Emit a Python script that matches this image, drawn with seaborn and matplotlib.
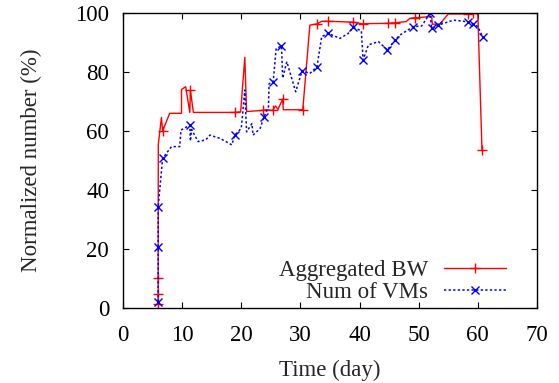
import numpy as np
import pandas as pd
import matplotlib
matplotlib.use("Agg")
import matplotlib.pyplot as plt
import seaborn as sns

# Aggregated BW (normalized %)
bw_day = [5.95, 5.95, 5.95, 5.97, 6.5, 6.7, 7.9, 9.9, 9.9, 10.6, 11.3, 11.4, 11.9,
          18.9, 19.9, 20.6, 20.9, 23.7, 24.2, 25.3, 25.8, 26.2, 27.0, 27.1, 30.4,
          31.6, 32.8, 33.6, 34.7, 38.9, 40.6, 41.2, 44.8, 46.0, 47.9, 48.5, 49.4,
          52.2, 52.3, 53.6, 55.0, 58.3, 59.2, 60.0, 60.7]
bw_val = [1.4, 4.7, 10.1, 55.3, 64.6, 60.0, 66.0, 66.0, 74.1, 75.0, 66.3, 73.8, 66.3,
          66.3, 66.5, 85.0, 66.6, 67.0, 67.2, 67.0, 68.5, 67.3, 70.8, 67.2, 67.2,
          95.9, 96.3, 97.2, 97.2, 96.9, 96.3, 96.4, 96.5, 96.7, 97.1, 98.2, 98.4,
          98.8, 96.2, 96.3, 99.7, 99.7, 100.0, 99.7, 53.6]
bw_marks = [0, 1, 2, 5, 11, 13, 17, 19, 22, 24, 26, 28, 29, 30, 32, 33, 36, 41, 42, 44]

# Num of VMs (normalized %)
vm_day = [5.95, 5.95, 5.95, 6.7, 8.2, 9.6, 9.8, 11.3, 11.4, 11.6, 12.7, 14.0, 14.7,
          16.4, 18.4, 18.9, 20.0, 20.6, 20.9, 21.8, 22.0, 23.2, 23.8, 24.6, 24.7,
          25.4, 25.9, 26.8, 27.0, 27.7, 29.2, 30.3, 31.6, 32.8, 33.6, 34.7, 36.7,
          38.1, 38.9, 40.3, 40.6, 41.5, 43.2, 44.7, 46.0, 46.8, 49.1, 50.5, 51.9,
          52.2, 52.5, 53.3, 55.9, 58.4, 59.2, 60.0, 60.8]
vm_val = [2.1, 20.8, 34.3, 50.7, 54.7, 54.7, 60.3, 62.0, 56.6, 60.5, 56.4, 57.0, 58.6,
          57.5, 55.3, 58.6, 60.9, 73.9, 59.7, 62.5, 58.6, 60.9, 64.6, 68.2, 76.0,
          76.7, 88.0, 88.8, 77.9, 83.5, 73.3, 80.5, 79.5, 81.8, 92.0, 93.1, 91.4,
          93.1, 95.1, 94.0, 84.1, 89.2, 90.3, 87.5, 90.8, 92.5, 95.4, 95.6, 99.9,
          94.8, 95.0, 95.9, 97.6, 97.0, 96.3, 95.4, 92.0]
vm_marks = [0, 1, 2, 3, 7, 15, 22, 25, 27, 31, 33, 35, 38, 40, 43, 44, 46, 48, 49, 51,
            53, 54, 56]

xticks = [0, 10, 20, 30, 40, 50, 60, 70]
yticks = [0, 20, 40, 60, 80, 100]

sns.set_style("ticks")
plt.rcParams['font.family'] = ['Liberation Serif', 'DejaVu Serif']

FS = 16.5

fig = plt.figure(figsize=(5.59, 3.83), dpi=100)
ax = fig.add_axes([0.22, 0.196, 0.7406, 0.770])

bw = pd.DataFrame({"day": bw_day, "val": bw_val})
vm = pd.DataFrame({"day": vm_day, "val": vm_val})

sns.lineplot(data=bw, x="day", y="val", ax=ax, sort=False, estimator=None,
             color="#ff0000", linewidth=1.0, label="Aggregated BW")
sns.lineplot(data=vm, x="day", y="val", ax=ax, sort=False, estimator=None,
             color="#0000ff", linewidth=1.1, linestyle=(0, (1.5, 1.5)),
             label="Num of VMs")

# seaborn paints marker edges white, so set the markers on the lines directly
l_bw, l_vm = ax.lines[0], ax.lines[1]
for ln, mk, ms, col, idx in [(l_bw, "+", 7.5, "#ff0000", bw_marks),
                             (l_vm, "x", 6, "#0000ff", vm_marks)]:
    ln.set_marker(mk)
    ln.set_markersize(ms)
    ln.set_markeredgewidth(1.0)
    ln.set_markeredgecolor(col)
    ln.set_markerfacecolor(col)
    ln.set_markevery(idx)

ax.set_xlim(0, 70)
ax.set_ylim(0, 100)
ax.set_xticks(xticks)
ax.set_yticks(yticks)
ax.tick_params(direction="in", length=4, width=0.8, top=True, right=True,
               labelsize=FS, colors="black")
ax.tick_params(axis="x", pad=12)
ax.tick_params(axis="y", pad=10)
for s in ax.spines.values():
    s.set_linewidth(1.0)
    s.set_color("black")
ax.set_xlabel("Time (day)", fontsize=FS, labelpad=10)
ax.set_ylabel("Normalized number (%)", fontsize=FS, labelpad=24)

leg = ax.legend(handles=[l_bw, l_vm], labels=["Aggregated BW", "Num of VMs"],
                loc="lower right", bbox_to_anchor=(0.959, -0.029), frameon=False,
                markerfirst=False, fontsize=FS, handlelength=2.7,
                handletextpad=0.7, labelspacing=0.05, borderaxespad=0.2)

fig.savefig("out.png", dpi=100)
